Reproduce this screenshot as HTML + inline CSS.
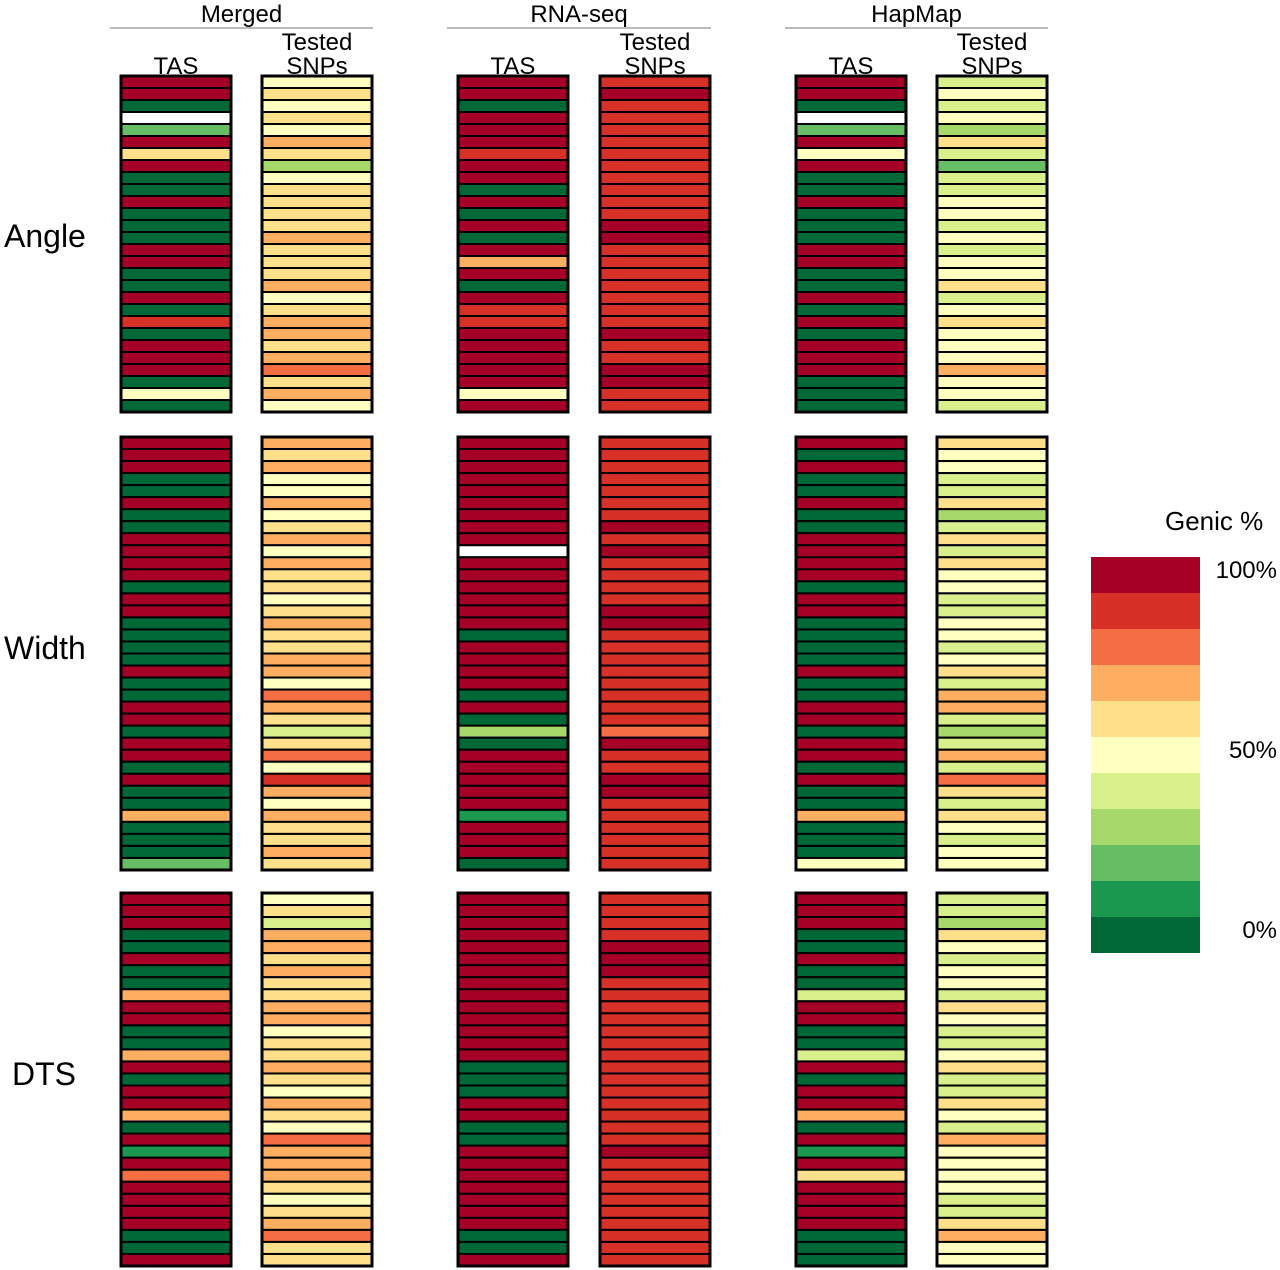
<!DOCTYPE html>
<html><head><meta charset="utf-8"><style>
html,body{margin:0;padding:0;background:#fff;}
svg{display:block;font-family:"Liberation Sans",sans-serif;}
</style></head><body>
<svg id="chart" width="1280" height="1270" viewBox="0 0 1280 1270"></svg>
<script>
// palette: index 0 = 100% genic, 10 = 0% genic; -1 = missing (white)
const palette = ["#a50026","#d73027","#f46d43","#fdae61","#fee08b","#ffffbf","#d9ef8b","#a6d96a","#66bd63","#1a9850","#006837"];
const traits = ["Angle","Width","DTS"];
const datasets = ["Merged","RNA-seq","HapMap"];
const legendLabels = ["100%","50%","0%"];

const angleMergedTAS = [0,0,10,-1,8,0,4,0,10,10,0,10,10,10,0,0,10,10,0,10,1,10,0,0,0,10,5,10];
const angleMergedSNP = [5,4,5,4,5,3,4,7,5,4,4,4,4,3,4,4,4,3,5,4,3,3,4,3,2,4,3,5];
const angleRnaTAS = [0,0,10,0,0,0,1,0,0,10,0,10,0,10,0,3,0,10,0,1,1,0,0,0,0,0,5,0];
const angleRnaSNP = [1,0,1,1,1,1,1,1,1,1,1,1,0,0,1,1,1,1,1,1,1,0,1,1,0,0,1,1];
const angleHapTAS = [0,0,10,-1,8,0,5,0,10,10,0,10,10,10,0,0,10,10,0,10,0,10,0,0,0,10,10,10];
const angleHapSNP = [6,5,6,5,7,4,6,8,6,6,5,5,6,5,6,5,5,4,6,5,4,5,5,5,3,5,5,6];

const widthMergedTAS = [0,0,0,10,10,0,10,10,0,0,0,0,10,0,0,10,10,10,10,0,10,10,0,0,10,0,0,10,0,10,10,3,10,10,10,8];
const widthMergedSNP = [3,4,3,5,5,3,5,4,3,5,3,4,4,5,4,3,4,4,3,3,5,2,3,4,6,4,2,5,1,3,5,3,4,4,3,4];
const widthRnaTAS = [0,0,0,0,0,0,0,0,0,-1,0,0,0,0,0,0,10,0,0,0,0,10,0,10,7,10,0,0,0,0,0,9,0,0,0,10];
const widthRnaSNP = [1,1,1,1,1,1,1,0,1,0,1,1,1,1,0,0,1,1,1,1,1,1,1,1,2,0,1,1,0,0,1,1,1,1,1,1];
const widthHapTAS = [0,10,0,10,10,0,10,10,0,0,0,0,10,0,0,10,10,10,10,0,10,10,0,0,10,0,0,10,0,10,10,3,10,10,10,5];
const widthHapSNP = [4,5,5,6,6,4,7,6,4,6,4,5,5,6,6,5,5,6,5,4,6,3,3,6,7,6,3,6,2,4,6,4,5,6,5,5];

const dtsMergedTAS = [0,0,0,10,10,0,10,10,3,0,0,10,10,3,0,10,0,0,3,10,0,9,0,2,0,0,0,0,10,10,0];
const dtsMergedSNP = [5,4,6,3,3,4,3,4,4,3,3,5,4,4,3,4,5,3,4,5,2,3,3,3,4,5,4,3,2,4,4];
const dtsRnaTAS = [0,0,0,0,0,0,0,0,0,0,0,0,0,0,10,10,10,0,0,10,10,0,0,0,0,0,0,0,10,10,0];
const dtsRnaSNP = [1,1,1,1,0,0,0,1,1,1,1,1,1,1,1,1,1,1,1,1,1,0,1,1,1,1,1,1,1,1,1];
const dtsHapTAS = [0,0,0,10,10,0,10,10,6,0,0,10,10,6,0,10,0,0,3,10,0,9,0,4,0,0,0,0,10,10,10];
const dtsHapSNP = [6,6,7,4,5,6,5,5,6,4,5,6,6,5,4,6,6,4,5,6,3,5,5,5,5,6,6,4,3,5,5];

const panelData = [
  [angleMergedTAS,angleMergedSNP,angleRnaTAS,angleRnaSNP,angleHapTAS,angleHapSNP],
  [widthMergedTAS,widthMergedSNP,widthRnaTAS,widthRnaSNP,widthHapTAS,widthHapSNP],
  [dtsMergedTAS,dtsMergedSNP,dtsRnaTAS,dtsRnaSNP,dtsHapTAS,dtsHapSNP]
];

const NS="http://www.w3.org/2000/svg";
const svg=document.getElementById('chart');
function mk(tag,attrs,parent){const e=document.createElementNS(NS,tag);for(const k in attrs)e.setAttribute(k,attrs[k]);(parent||svg).appendChild(e);return e;}

const colX=[121,262,458,600,796,937], colW=110;
const panelY=[[76,412],[437,870],[893,1266]];
const labelY=[247,659,1085];
const labelX=[4,4,12];

datasets.forEach((d,i)=>{
  const x0=colX[i*2]-11, x1=colX[i*2+1]+colW+1;
  const t=mk('text',{x:(x0+x1)/2,y:22,'text-anchor':'middle','font-size':24,fill:'#000'});
  t.textContent=d;
  
  
  const l=mk('line',{x1:x0,x2:x1,y1:28,y2:28,stroke:'#bbb','stroke-width':2});
  
  
  const ta=mk('text',{x:colX[i*2]+colW/2,y:74,'text-anchor':'middle','font-size':24});
  ta.textContent='TAS';
  
  
  const tb=mk('text',{x:colX[i*2+1]+colW/2,y:50,'text-anchor':'middle','font-size':24});
  tb.textContent='Tested';
  
  
  const tc=mk('text',{x:colX[i*2+1]+colW/2,y:74,'text-anchor':'middle','font-size':24});
  tc.textContent='SNPs';
  
  
});

traits.forEach((tr,p)=>{
  const lab=mk('text',{x:labelX[p],y:labelY[p],'font-size':32});
  lab.textContent=tr;
  
  
  const [y0,y1]=panelY[p];
  panelData[p].forEach((vals,c)=>{
    const n=vals.length, h=(y1-y0)/n;
    vals.forEach((v,r)=>{
      const rc=mk('rect',{x:colX[c],y:y0+r*h,width:colW,height:h,fill:v<0?'#ffffff':palette[v],stroke:'#000','stroke-width':2});
      
      
    });
    const b=mk('rect',{x:colX[c],y:y0,width:colW,height:y1-y0,fill:'none',stroke:'#000','stroke-width':3});
    
    
  });
});

// legend
const lt=mk('text',{x:1165,y:530,'font-size':26});
lt.textContent='Genic %';


const ly0=557, lh=36;
palette.forEach((c,i)=>{
  const r=mk('rect',{x:1091,y:ly0+i*lh,width:109,height:lh,fill:c});
  
  
});
const legIdx=[0,5,10];
legendLabels.forEach((s,i)=>{
  const t=mk('text',{x:1277,y:ly0+legIdx[i]*lh+lh/2+3,'text-anchor':'end','font-size':24});
  t.textContent=s;
  
  
});
</script>
</body></html>
